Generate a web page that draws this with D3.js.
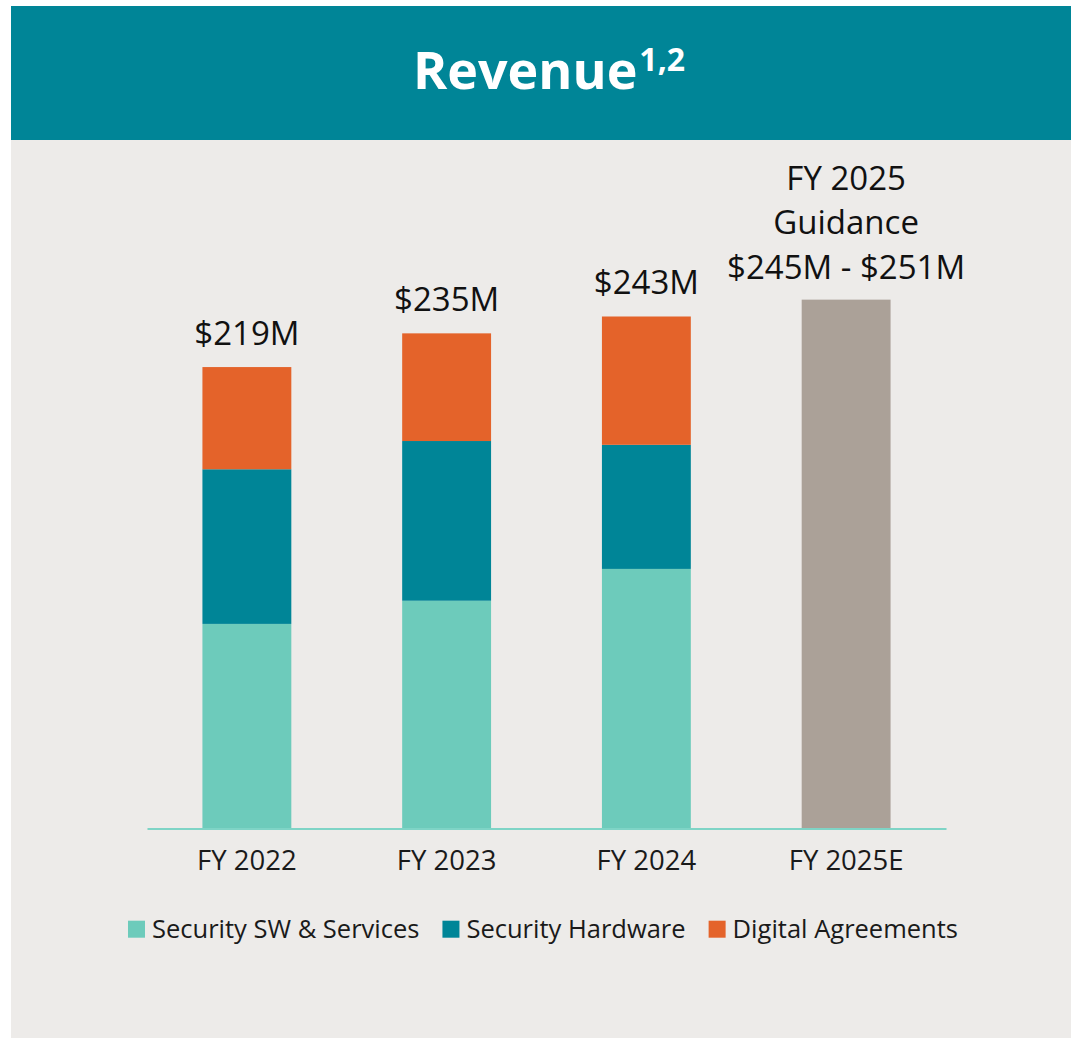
<!DOCTYPE html>
<html>
<head>
<meta charset="utf-8">
<script src="https://cdn.jsdelivr.net/npm/d3@7"></script>
<style>
  html, body { margin: 0; padding: 0; background: #ffffff; }
  svg { display: block; }
  text { font-family: "Open Sans", "Noto Sans", sans-serif; }
</style>
</head>
<body>
<svg id="chart" width="1071" height="1038"></svg>
<script>
// Fiscal years and revenue segments ($M)
const years = ["FY 2022", "FY 2023", "FY 2024", "FY 2025E"];
const segments = ["Security SW & Services", "Security Hardware", "Digital Agreements"];
const swServices = [97.1, 108.1, 123.2];
const hardware = [73.4, 75.8, 58.9];
const digital = [48.5, 51.1, 60.9];
const totals = [219, 235, 243];
const totalLabels = ["$219M", "$235M", "$243M"];
const guidanceLow = 245;
const guidanceHigh = 251;
const guidanceLabel = ["FY 2025", "Guidance", "$245M - $251M"];

const colors = {
  "Security SW & Services": "#6dcbbb",
  "Security Hardware": "#008597",
  "Digital Agreements": "#e4632a"
};
const guidanceColor = "#aba198";

const svg = d3.select("#chart");

// Panel background and header band
svg.append("rect").attr("x", 11).attr("y", 140).attr("width", 1060).attr("height", 898).attr("fill", "#edebe9");
svg.append("rect").attr("x", 11).attr("y", 6).attr("width", 1060).attr("height", 134).attr("fill", "#008597");

const title = svg.append("text")
  .attr("x", 549).attr("y", 89)
  .attr("text-anchor", "middle")
  .attr("fill", "#ffffff")
  .attr("font-weight", 700)
  .attr("font-size", 52);
title.append("tspan").text("Revenue");
title.append("tspan").attr("font-size", 32).attr("dy", -18).attr("dx", 2).text("1,2");

// Scales
const x = d3.scaleBand()
  .domain(years)
  .range([147, 946])
  .paddingInner(0.555)
  .paddingOuter(0.2775);

const y = d3.scaleLinear()
  .domain([0, 250])
  .range([828.5, 301.75]);

// Stacked bars for reported years
const rows = years.slice(0, 3).map((yr, i) => ({
  year: yr,
  "Security SW & Services": swServices[i],
  "Security Hardware": hardware[i],
  "Digital Agreements": digital[i]
}));
const stacked = d3.stack().keys(segments)(rows);

const g = svg.append("g");
g.selectAll("g.layer")
  .data(stacked)
  .join("g")
  .attr("class", "layer")
  .attr("fill", d => colors[d.key])
  .selectAll("rect")
  .data(d => d)
  .join("rect")
  .attr("x", d => x(d.data.year))
  .attr("width", x.bandwidth())
  .attr("y", d => y(d[1]))
  .attr("height", d => y(d[0]) - y(d[1]));

// Guidance bar
g.append("rect")
  .attr("x", x("FY 2025E"))
  .attr("width", x.bandwidth())
  .attr("y", y(guidanceHigh))
  .attr("height", y(0) - y(guidanceHigh))
  .attr("fill", guidanceColor);

// Total labels
g.selectAll("text.total")
  .data(totals)
  .join("text")
  .attr("class", "total")
  .attr("x", (d, i) => x(years[i]) + x.bandwidth() / 2)
  .attr("y", d => y(d) - 22)
  .attr("text-anchor", "middle")
  .attr("font-size", 33)
  .attr("fill", "#111")
  .text((d, i) => totalLabels[i]);

// Guidance label (three lines, last line sits above the bar)
const gl = g.append("text")
  .attr("x", x("FY 2025E") + x.bandwidth() / 2)
  .attr("y", y(guidanceHigh) - 21)
  .attr("text-anchor", "middle")
  .attr("font-size", 33)
  .attr("fill", "#111");
guidanceLabel.forEach((line, i) => {
  gl.append("tspan")
    .attr("x", x("FY 2025E") + x.bandwidth() / 2)
    .attr("dy", i === 0 ? -(guidanceLabel.length - 1) * 44.5 : 44.5)
    .text(line);
});

// Category axis
const axis = svg.append("g")
  .attr("transform", `translate(0,${y(0)})`)
  .call(d3.axisBottom(x).tickSize(0).tickPadding(0).tickSizeOuter(0));
axis.select(".domain").attr("stroke", "#7fd4c6").attr("stroke-width", 2);
axis.selectAll(".tick text")
  .attr("dy", null)
  .attr("y", 41.5)
  .attr("font-size", 27.5)
  .attr("font-family", "'Open Sans', sans-serif")
  .attr("fill", "#1a1a1a");

// Legend
const legend = svg.append("g").attr("transform", "translate(0,937.7)");
const items = legend.selectAll("g.item")
  .data(segments)
  .join("g")
  .attr("class", "item");
items.append("rect")
  .attr("width", 17).attr("height", 17)
  .attr("y", -17)
  .attr("fill", d => colors[d]);
items.append("text")
  .attr("x", 24)
  .attr("font-size", 25.5)
  .attr("fill", "#1a1a1a")
  .text(d => d);
let widths = [];
items.each(function () {
  widths.push(24 + d3.select(this).select("text").node().getComputedTextLength());
});
const gap = 23;
const totalW = d3.sum(widths) + gap * (widths.length - 1);
let cx = 543 - totalW / 2;
items.attr("transform", (d, i) => {
  const t = `translate(${cx},0)`;
  cx += widths[i] + gap;
  return t;
});
</script>
</body>
</html>
